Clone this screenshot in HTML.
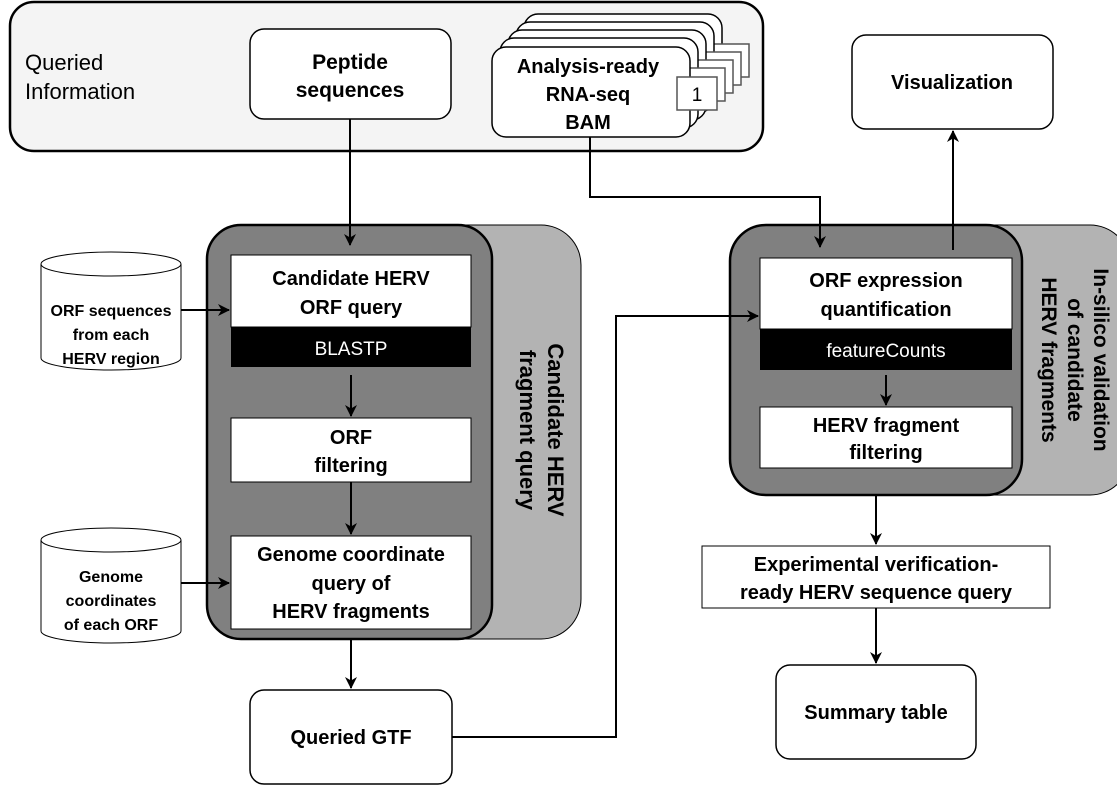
<!DOCTYPE html>
<html><head><meta charset="utf-8"><style>
html,body{margin:0;padding:0;background:#fff;}
svg{display:block;}
text{font-family:"Liberation Sans",Arial,sans-serif;}
.b{font-weight:bold;}
</style></head><body>
<svg width="1117" height="785" viewBox="0 0 1117 785" xmlns="http://www.w3.org/2000/svg">
<defs>
<marker id="ah" markerWidth="12" markerHeight="12" refX="11" refY="6" orient="auto" markerUnits="userSpaceOnUse">
<path d="M0,0 L12,6 L0,12 L3.5,6 Z" fill="#000"/>
</marker>
</defs>

<rect x="10" y="2" width="753" height="149" rx="24" fill="#f4f4f4" stroke="#000" stroke-width="2.5"/>
<text x="25" y="70" font-size="22">Queried</text>
<text x="25" y="99" font-size="22">Information</text>

<rect x="250" y="29" width="201" height="90" rx="14" fill="#fff" stroke="#000" stroke-width="1.5"/>
<text class="b" x="350" y="69" font-size="21" text-anchor="middle">Peptide</text>
<text class="b" x="350" y="97" font-size="21" text-anchor="middle">sequences</text>

<g stroke="#000" stroke-width="1.5">
<g transform="translate(32,-33)"><rect x="492" y="47" width="198" height="90" rx="14" fill="#fff"/><rect x="677" y="77" width="40" height="33" fill="#fff" stroke="#555"/></g>
<g transform="translate(24,-25)"><rect x="492" y="47" width="198" height="90" rx="14" fill="#fff"/><rect x="677" y="77" width="40" height="33" fill="#fff" stroke="#555"/></g>
<g transform="translate(16,-17)"><rect x="492" y="47" width="198" height="90" rx="14" fill="#fff"/><rect x="677" y="77" width="40" height="33" fill="#fff" stroke="#555"/></g>
<g transform="translate(8,-9)"><rect x="492" y="47" width="198" height="90" rx="14" fill="#fff"/><rect x="677" y="77" width="40" height="33" fill="#fff" stroke="#555"/></g>
<rect x="492" y="47" width="198" height="90" rx="14" fill="#fff"/>
<rect x="677" y="77" width="40" height="33" fill="#fff" stroke="#555"/>
</g>
<text x="697" y="101" font-size="19" text-anchor="middle">1</text>
<text class="b" x="588" y="73" font-size="20" text-anchor="middle">Analysis-ready</text>
<text class="b" x="588" y="101" font-size="20" text-anchor="middle">RNA-seq</text>
<text class="b" x="588" y="129" font-size="20" text-anchor="middle">BAM</text>

<rect x="852" y="35" width="201" height="94" rx="14" fill="#fff" stroke="#000" stroke-width="1.5"/>
<text class="b" x="952" y="89" font-size="20" text-anchor="middle">Visualization</text>

<rect x="207" y="225" width="374" height="414" rx="40" fill="#b3b3b3" stroke="#000" stroke-width="1"/>
<rect x="207" y="225" width="285" height="414" rx="34" fill="#808080" stroke="#000" stroke-width="2.5"/>
<rect x="231" y="255" width="240" height="72" fill="#fff" stroke="#000" stroke-width="1"/>
<rect x="231" y="327" width="240" height="40" fill="#000"/>
<text class="b" x="351" y="285" font-size="20" text-anchor="middle">Candidate HERV</text>
<text class="b" x="351" y="314" font-size="20" text-anchor="middle">ORF query</text>
<text x="351" y="355" font-size="19" fill="#fff" text-anchor="middle">BLASTP</text>
<rect x="231" y="418" width="240" height="64" fill="#fff" stroke="#000" stroke-width="1"/>
<text class="b" x="351" y="444" font-size="20" text-anchor="middle">ORF</text>
<text class="b" x="351" y="472" font-size="20" text-anchor="middle">filtering</text>
<rect x="231" y="536" width="240" height="93" fill="#fff" stroke="#000" stroke-width="1"/>
<text class="b" x="351" y="561" font-size="20" text-anchor="middle">Genome coordinate</text>
<text class="b" x="351" y="590" font-size="20" text-anchor="middle">query of</text>
<text class="b" x="351" y="618" font-size="20" text-anchor="middle">HERV fragments</text>
<g transform="translate(536,430) rotate(90)">
<text class="b" x="0" y="-12" font-size="22" text-anchor="middle">Candidate HERV</text>
<text class="b" x="0" y="16" font-size="22" text-anchor="middle">fragment query</text>
</g>

<g stroke="#000" stroke-width="1" fill="#fff">
<path d="M41,264 L41,358 A70,12 0 0 0 181,358 L181,264"/>
<ellipse cx="111" cy="264" rx="70" ry="12"/>
<path d="M41,540 L41,631 A70,12 0 0 0 181,631 L181,540"/>
<ellipse cx="111" cy="540" rx="70" ry="12"/>
</g>
<text class="b" x="111" y="316" font-size="16" text-anchor="middle">ORF sequences</text>
<text class="b" x="111" y="340" font-size="16" text-anchor="middle">from each</text>
<text class="b" x="111" y="364" font-size="16" text-anchor="middle">HERV region</text>
<text class="b" x="111" y="582" font-size="16" text-anchor="middle">Genome</text>
<text class="b" x="111" y="606" font-size="16" text-anchor="middle">coordinates</text>
<text class="b" x="111" y="630" font-size="16" text-anchor="middle">of each ORF</text>

<rect x="730" y="225" width="400" height="270" rx="40" fill="#b3b3b3" stroke="#000" stroke-width="1"/>
<rect x="730" y="225" width="292" height="270" rx="36" fill="#808080" stroke="#000" stroke-width="2.5"/>
<rect x="760" y="258" width="252" height="71" fill="#fff" stroke="#000" stroke-width="1"/>
<rect x="760" y="329" width="252" height="41" fill="#000"/>
<text class="b" x="886" y="287" font-size="20" text-anchor="middle">ORF expression</text>
<text class="b" x="886" y="316" font-size="20" text-anchor="middle">quantification</text>
<text x="886" y="357" font-size="19" fill="#fff" text-anchor="middle">featureCounts</text>
<rect x="760" y="407" width="252" height="61" fill="#fff" stroke="#000" stroke-width="1"/>
<text class="b" x="886" y="432" font-size="20" text-anchor="middle">HERV fragment</text>
<text class="b" x="886" y="459" font-size="20" text-anchor="middle">filtering</text>
<g transform="translate(1068,360) rotate(90)">
<text class="b" x="0" y="-26" font-size="21" text-anchor="middle">In-silico validation</text>
<text class="b" x="0" y="0" font-size="21" text-anchor="middle">of candidate</text>
<text class="b" x="0" y="26" font-size="21" text-anchor="middle">HERV fragments</text>
</g>

<rect x="250" y="690" width="202" height="94" rx="14" fill="#fff" stroke="#000" stroke-width="1.5"/>
<text class="b" x="351" y="744" font-size="20" text-anchor="middle">Queried GTF</text>
<rect x="702" y="546" width="348" height="62" fill="#fff" stroke="#000" stroke-width="1"/>
<text class="b" x="876" y="571" font-size="20" text-anchor="middle">Experimental verification-</text>
<text class="b" x="876" y="599" font-size="20" text-anchor="middle">ready HERV sequence query</text>
<rect x="776" y="665" width="200" height="94" rx="14" fill="#fff" stroke="#000" stroke-width="1.5"/>
<text class="b" x="876" y="719" font-size="20" text-anchor="middle">Summary table</text>

<g stroke="#000" stroke-width="2" fill="none">
<line x1="350" y1="119" x2="350" y2="245" marker-end="url(#ah)"/>
<polyline points="590,137 590,197 820,197 820,247" marker-end="url(#ah)"/>
<line x1="953" y1="250" x2="953" y2="131" marker-end="url(#ah)"/>
<line x1="181" y1="310" x2="229" y2="310" marker-end="url(#ah)"/>
<line x1="181" y1="583" x2="229" y2="583" marker-end="url(#ah)"/>
<line x1="351" y1="375" x2="351" y2="416" marker-end="url(#ah)"/>
<line x1="351" y1="482" x2="351" y2="534" marker-end="url(#ah)"/>
<line x1="351" y1="639" x2="351" y2="688" marker-end="url(#ah)"/>
<polyline points="452,737 616,737 616,316 758,316" marker-end="url(#ah)"/>
<line x1="886" y1="375" x2="886" y2="405" marker-end="url(#ah)"/>
<line x1="876" y1="495" x2="876" y2="544" marker-end="url(#ah)"/>
<line x1="876" y1="608" x2="876" y2="663" marker-end="url(#ah)"/>
</g>
</svg>
</body></html>
